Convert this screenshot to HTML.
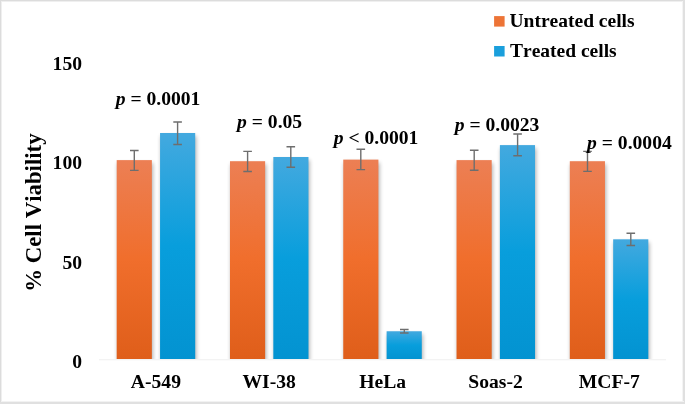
<!DOCTYPE html>
<html><head><meta charset="utf-8"><title>chart</title>
<style>
html,body{margin:0;padding:0;background:#fff;}
#c{position:relative;width:685px;height:404px;overflow:hidden;background:#fff;font-family:"Liberation Serif",serif;font-weight:bold;color:#000;}
.f{position:absolute;}
svg{position:absolute;left:0;top:0;}
#t{opacity:0.999;}
text{font-family:"Liberation Serif",serif;font-weight:bold;fill:#000;font-kerning:none;}
</style></head><body>
<div id="c">
<svg width="685" height="404" viewBox="0 0 685 404">
<defs>
<linearGradient id="go" x1="0" y1="0" x2="0" y2="1"><stop offset="0" stop-color="#ec7f54"/><stop offset="0.5" stop-color="#f06e2c"/><stop offset="1" stop-color="#df5e1a"/></linearGradient>
<linearGradient id="gb" x1="0" y1="0" x2="0" y2="1"><stop offset="0" stop-color="#43a9df"/><stop offset="0.5" stop-color="#089edc"/><stop offset="1" stop-color="#0393d1"/></linearGradient>
<filter id="sh" x="-30%" y="-10%" width="160%" height="120%" color-interpolation-filters="sRGB"><feGaussianBlur in="SourceAlpha" stdDeviation="2.2"/><feOffset dx="0.7" dy="2.6"/><feComponentTransfer><feFuncA type="linear" slope="0.33"/></feComponentTransfer><feMerge><feMergeNode/><feMergeNode in="SourceGraphic"/></feMerge></filter>
<clipPath id="cp"><rect x="0" y="0" width="685" height="359.1"/></clipPath>
</defs>
<line x1="99" y1="359.7" x2="666" y2="359.7" stroke="#efefef" stroke-width="1.1"/>
<g clip-path="url(#cp)">
<rect x="116.70" y="160.10" width="35.15" height="199.00" fill="url(#go)" filter="url(#sh)"/>
<rect x="160.05" y="133.00" width="35.15" height="226.10" fill="url(#gb)" filter="url(#sh)"/>
<rect x="229.98" y="161.20" width="35.15" height="197.90" fill="url(#go)" filter="url(#sh)"/>
<rect x="273.33" y="157.00" width="35.15" height="202.10" fill="url(#gb)" filter="url(#sh)"/>
<rect x="343.26" y="159.60" width="35.15" height="199.50" fill="url(#go)" filter="url(#sh)"/>
<rect x="386.61" y="331.25" width="35.15" height="27.85" fill="url(#gb)" filter="url(#sh)"/>
<rect x="456.54" y="160.10" width="35.15" height="199.00" fill="url(#go)" filter="url(#sh)"/>
<rect x="499.89" y="145.10" width="35.15" height="214.00" fill="url(#gb)" filter="url(#sh)"/>
<rect x="569.82" y="161.20" width="35.15" height="197.90" fill="url(#go)" filter="url(#sh)"/>
<rect x="613.17" y="239.30" width="35.15" height="119.80" fill="url(#gb)" filter="url(#sh)"/>
</g>
<g stroke="#6e6e6e" stroke-width="1.4" fill="none">
<path d="M130.00 150.45H138.60M134.30 150.45V170.40M130.00 170.40H138.60"/>
<path d="M173.30 122.00H181.90M177.60 122.00V144.45M173.30 144.45H181.90"/>
<path d="M243.30 151.40H251.90M247.60 151.40V171.50M243.30 171.50H251.90"/>
<path d="M286.50 146.70H295.10M290.80 146.70V167.30M286.50 167.30H295.10"/>
<path d="M356.50 149.30H365.10M360.80 149.30V169.60M356.50 169.60H365.10"/>
<path d="M400.00 329.50H408.60M404.30 329.50V333.00M400.00 333.00H408.60"/>
<path d="M469.90 150.30H478.50M474.20 150.30V170.30M469.90 170.30H478.50"/>
<path d="M513.30 134.05H521.90M517.60 134.05V155.75M513.30 155.75H521.90"/>
<path d="M583.20 151.40H591.80M587.50 151.40V171.35M583.20 171.35H591.80"/>
<path d="M626.50 233.20H635.10M630.80 233.20V245.45M626.50 245.45H635.10"/>
</g>
<g id="t">
<text x="82.0" y="69.9" font-size="19.6" text-anchor="end">150</text>
<text x="82.0" y="169.2" font-size="19.6" text-anchor="end">100</text>
<text x="82.0" y="268.7" font-size="19.6" text-anchor="end">50</text>
<text x="82.0" y="367.9" font-size="19.6" text-anchor="end">0</text>
<text x="155.9" y="388.45" font-size="19.6" text-anchor="middle">A-549</text>
<text x="269.1" y="388.45" font-size="19.6" text-anchor="middle">WI-38</text>
<text x="382.7" y="388.45" font-size="19.6" text-anchor="middle">HeLa</text>
<text x="495.6" y="388.45" font-size="19.6" text-anchor="middle">Soas-2</text>
<text x="609.3" y="388.45" font-size="19.6" text-anchor="middle">MCF-7</text>
<text x="115.7" y="104.5" font-size="19.6" xml:space="preserve"><tspan font-style="italic">p</tspan> = 0.0001</text>
<text x="237.1" y="128.3" font-size="19.6" xml:space="preserve"><tspan font-style="italic">p</tspan> = 0.05</text>
<text x="333.7" y="144.2" font-size="19.6" xml:space="preserve"><tspan font-style="italic">p</tspan> &lt; 0.0001</text>
<text x="454.7" y="130.55" font-size="19.6" xml:space="preserve"><tspan font-style="italic">p</tspan> = 0.0023</text>
<text x="587.1" y="148.6" font-size="19.6" xml:space="preserve"><tspan font-style="italic">p</tspan> = 0.0004</text>
<rect x="494.1" y="16.1" width="10.5" height="10.5" fill="#ed7436"/>
<rect x="494.1" y="46.0" width="10.5" height="10.5" fill="#1a9fdc"/>
<text x="509.5" y="26.7" font-size="19.5">Untreated cells</text>
<text x="510.0" y="56.7" font-size="19.5">Treated cells</text>
<text transform="translate(41.2 212.6) rotate(-90)" font-size="22.8" text-anchor="middle">% Cell Viability</text>
</g>
</svg>
<div class="f" style="left:0;top:0;width:685px;height:1px;background:#dcdcdc"></div><div class="f" style="left:0;top:1px;width:685px;height:1px;background:#efefef"></div>
<div class="f" style="left:0;top:0;width:1px;height:404px;background:#dcdcdc"></div><div class="f" style="left:1px;top:1px;width:1px;height:403px;background:#efefef"></div>
<div class="f" style="left:682px;top:1px;width:1px;height:403px;background:#f4f4f4"></div><div class="f" style="left:683px;top:0;width:2px;height:404px;background:#e0e0e0"></div>
<div class="f" style="left:1px;top:401px;width:683px;height:1px;background:#f2f2f2"></div><div class="f" style="left:0;top:402px;width:685px;height:2px;background:#e0e0e0"></div>
</div>
</body></html>
